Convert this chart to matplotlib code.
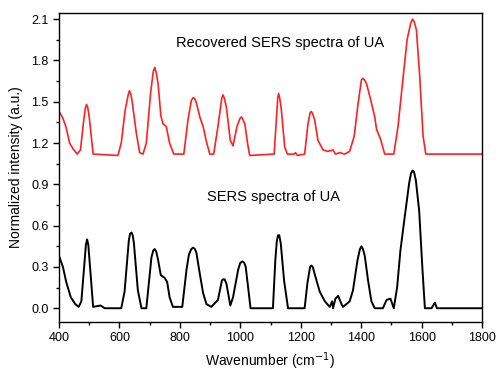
import numpy as np
import matplotlib
matplotlib.use("Agg")
import matplotlib.pyplot as plt
from matplotlib.ticker import MultipleLocator

plt.rcParams['font.family'] = ['Liberation Sans', 'DejaVu Sans']

# SERS spectrum of UA (black)
sers_x = [400, 413, 424, 439, 454, 465, 474, 485, 489, 493, 497, 502, 513, 538, 551, 606,
          617, 631, 635, 640, 644, 648, 661, 673, 689, 706, 712, 717, 722, 728, 737, 750, 758, 766,
          777, 808, 822, 830, 838, 844, 850, 855, 866, 877, 888, 904, 926, 939, 943, 948, 954, 967,
          976, 993, 1000, 1007, 1013, 1018, 1026, 1034, 1108, 1116, 1121, 1125, 1129, 1134, 1145, 1158,
          1213, 1222, 1231, 1235, 1240, 1246, 1263, 1280, 1296, 1304, 1307, 1315, 1324, 1335,
          1340, 1351, 1362, 1373, 1388, 1396, 1401, 1406, 1412, 1423, 1434, 1445, 1472, 1484,
          1497, 1508, 1519, 1530, 1544, 1559, 1565, 1570, 1575, 1581, 1592, 1603, 1611, 1633,
          1644, 1651, 1800]
sers_y = [0.38, 0.30, 0.19, 0.08, 0.03, 0.01, 0.05, 0.35, 0.46, 0.50, 0.46, 0.32, 0.01, 0.02, 0.0, 0.0,
          0.12, 0.49, 0.54, 0.55, 0.53, 0.47, 0.13, 0.0, 0.0, 0.37, 0.42, 0.43, 0.41, 0.35, 0.24, 0.22, 0.19, 0.08,
          0.01, 0.01, 0.28, 0.39, 0.43, 0.44, 0.43, 0.40, 0.25, 0.11, 0.03, 0.01, 0.06, 0.20, 0.21, 0.21, 0.18, 0.02,
          0.08, 0.28, 0.33, 0.34, 0.33, 0.30, 0.15, 0.0, 0.0, 0.35, 0.49, 0.53, 0.53, 0.47, 0.20, 0.0,
          0.0, 0.18, 0.30, 0.31, 0.30, 0.25, 0.12, 0.05, 0.01, 0.05, 0.0, 0.07, 0.09, 0.03,
          0.01, 0.03, 0.05, 0.13, 0.35, 0.43, 0.45, 0.43, 0.38, 0.20, 0.05, 0.0, 0.0, 0.06,
          0.07, 0.0, 0.15, 0.42, 0.66, 0.91, 0.98, 1.0, 0.99, 0.93, 0.71, 0.28, 0.0, 0.0,
          0.04, 0.0, 0.0]

# recovered SERS spectrum (red)
rec_x = [400, 413, 424, 435, 446, 460, 471, 482, 487, 491, 495, 500, 513, 595, 606, 619,
         629, 633, 637, 641, 656, 667, 678, 689, 703, 712, 717, 722, 728, 737, 744, 755, 766, 780,
         813, 827, 838, 844, 850, 855, 866, 877, 888, 899, 912, 926, 939, 943, 948, 954, 967, 976,
         989, 999, 1004, 1009, 1015, 1024, 1031, 1112, 1120, 1124, 1127, 1131, 1136, 1147, 1156, 1178,
         1183, 1189, 1213, 1224, 1231, 1235, 1240, 1246, 1257, 1274, 1290, 1307, 1315, 1329,
         1346, 1362, 1377, 1390, 1401, 1406, 1411, 1418, 1432, 1445, 1451, 1464, 1478, 1508,
         1522, 1539, 1552, 1564, 1570, 1576, 1583, 1594, 1605, 1614, 1800]
rec_y = [1.43, 1.38, 1.31, 1.20, 1.16, 1.12, 1.15, 1.37, 1.45, 1.48, 1.46, 1.39, 1.12, 1.11, 1.20, 1.44,
         1.55, 1.58, 1.56, 1.52, 1.27, 1.13, 1.12, 1.20, 1.56, 1.72, 1.75, 1.71, 1.63, 1.40, 1.34, 1.32, 1.20, 1.12,
         1.12, 1.37, 1.51, 1.53, 1.52, 1.49, 1.39, 1.32, 1.21, 1.12, 1.12, 1.32, 1.53, 1.55, 1.52, 1.46, 1.22, 1.18,
         1.32, 1.38, 1.39, 1.37, 1.34, 1.20, 1.11, 1.12, 1.39, 1.53, 1.56, 1.52, 1.44, 1.17, 1.12, 1.12,
         1.13, 1.11, 1.12, 1.34, 1.42, 1.43, 1.41, 1.37, 1.22, 1.15, 1.14, 1.15, 1.12, 1.13,
         1.12, 1.14, 1.25, 1.49, 1.66, 1.67, 1.66, 1.63, 1.51, 1.39, 1.30, 1.23, 1.12, 1.12,
         1.32, 1.68, 1.95, 2.07, 2.10, 2.08, 2.02, 1.68, 1.25, 1.12, 1.12]

fig = plt.figure(figsize=(4.96, 3.71), dpi=100)
ax = fig.add_axes([59 / 496, 1 - 322 / 371, 423 / 496, 309 / 371])

ax.plot(sers_x, sers_y, color='black', lw=1.4)
ax.plot(rec_x, rec_y, color='#ff2020', lw=1.2)

ax.set_xlim(400, 1800)
ax.set_ylim(-0.1, 2.145)
ax.xaxis.set_major_locator(MultipleLocator(200))
ax.xaxis.set_minor_locator(MultipleLocator(100))
ax.yaxis.set_major_locator(MultipleLocator(0.3))
ax.yaxis.set_minor_locator(MultipleLocator(0.15))
ax.yaxis.set_major_formatter(plt.FuncFormatter(lambda v, p: f"{v:.1f}"))
ax.tick_params(which='major', direction='out', length=4, width=1, labelsize=9)
ax.tick_params(which='minor', direction='out', length=2.5, width=1)
for s in ax.spines.values():
    s.set_linewidth(1.0)

ax.text(1130, 1.93, 'Recovered SERS spectra of UA', ha='center', va='center', fontsize=10.5)
ax.text(1109, 0.81, 'SERS spectra of UA', ha='center', va='center', fontsize=10.5)

ax.set_xlabel('Wavenumber (cm$^{-1}$)', fontsize=10, labelpad=4)
ax.set_ylabel('Normalized intensity (a.u.)', fontsize=10, labelpad=6)

fig.savefig('out.png', dpi=100)
